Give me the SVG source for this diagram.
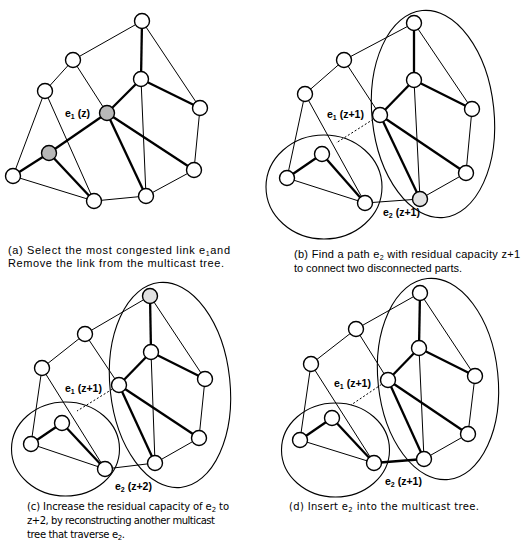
<svg xmlns="http://www.w3.org/2000/svg" width="522" height="544" viewBox="0 0 522 544">
<style>
.t{stroke:#000;stroke-width:1;fill:none}
.k{stroke:#000;stroke-width:2.3;fill:none}
.d{stroke:#000;stroke-width:1;stroke-dasharray:2 2;fill:none}
.el{stroke:#000;stroke-width:1.1;fill:none}
.n circle{fill:#fff;stroke:#000;stroke-width:1.4}
.n.s circle{fill:#b8b8b8}
.n.l circle{fill:#e2e2e2}
.lb{font-family:"Liberation Sans",Arial,sans-serif;font-size:10.5px;font-weight:bold;fill:#000}
.cap{font-family:"Liberation Sans",Arial,sans-serif;font-size:11px;fill:#000}
.cap2{font-family:"DejaVu Sans",Verdana,sans-serif;font-size:10px;fill:#000}
.sub{font-size:7px}
</style>
<rect width="522" height="544" fill="#fff"/>
<g id="ellipses">
<ellipse class="el" cx="433" cy="114" rx="61" ry="104" transform="rotate(-6 433 114)"/>
<ellipse class="el" cx="324" cy="187" rx="58" ry="52"/>
<ellipse class="el" cx="170" cy="385" rx="60" ry="103" transform="rotate(-6 170 385)"/>
<ellipse class="el" cx="65.5" cy="449" rx="54" ry="47"/>
<ellipse class="el" cx="438" cy="379" rx="60" ry="101" transform="rotate(-6 438 379)"/>
<ellipse class="el" cx="335.5" cy="450" rx="54" ry="47"/>
</g>
<g id="connectors">
<line class="t" x1="142" y1="21" x2="73" y2="60"/>
<line class="t" x1="142" y1="21" x2="200" y2="108"/>
<line class="t" x1="73" y1="60" x2="45" y2="91"/>
<line class="t" x1="73" y1="60" x2="107" y2="113"/>
<line class="t" x1="45" y1="91" x2="13" y2="176"/>
<line class="t" x1="45" y1="91" x2="94" y2="201"/>
<line class="t" x1="141" y1="79" x2="146" y2="196"/>
<line class="t" x1="200" y1="108" x2="194" y2="170"/>
<line class="t" x1="194" y1="170" x2="146" y2="196"/>
<line class="t" x1="146" y1="196" x2="94" y2="201"/>
<line class="t" x1="94" y1="201" x2="13" y2="176"/>
<line class="k" x1="142" y1="21" x2="141" y2="79"/>
<line class="k" x1="141" y1="79" x2="107" y2="113"/>
<line class="k" x1="141" y1="79" x2="200" y2="108"/>
<line class="k" x1="107" y1="113" x2="146" y2="196"/>
<line class="k" x1="107" y1="113" x2="194" y2="170"/>
<line class="k" x1="49" y1="153" x2="13" y2="176"/>
<line class="k" x1="49" y1="153" x2="94" y2="201"/>
<line class="k" x1="107" y1="113" x2="49" y2="153"/>
<line class="t" x1="414" y1="23" x2="344" y2="60"/>
<line class="t" x1="414" y1="23" x2="472" y2="109"/>
<line class="t" x1="344" y1="60" x2="305" y2="94"/>
<line class="t" x1="344" y1="60" x2="380" y2="115"/>
<line class="t" x1="305" y1="94" x2="287" y2="178"/>
<line class="t" x1="305" y1="94" x2="365" y2="203"/>
<line class="t" x1="414" y1="80" x2="420" y2="199"/>
<line class="t" x1="472" y1="109" x2="466" y2="173"/>
<line class="t" x1="466" y1="173" x2="420" y2="199"/>
<line class="t" x1="420" y1="199" x2="365" y2="203"/>
<line class="t" x1="365" y1="203" x2="287" y2="178"/>
<line class="k" x1="414" y1="23" x2="414" y2="80"/>
<line class="k" x1="414" y1="80" x2="380" y2="115"/>
<line class="k" x1="414" y1="80" x2="472" y2="109"/>
<line class="k" x1="380" y1="115" x2="420" y2="199"/>
<line class="k" x1="380" y1="115" x2="466" y2="173"/>
<line class="k" x1="322" y1="154" x2="287" y2="178"/>
<line class="k" x1="322" y1="154" x2="365" y2="203"/>
<line class="d" x1="380" y1="115" x2="336" y2="143"/>
<line class="t" x1="150" y1="296" x2="85" y2="334"/>
<line class="t" x1="150" y1="296" x2="205" y2="379"/>
<line class="t" x1="85" y1="334" x2="42" y2="368"/>
<line class="t" x1="85" y1="334" x2="119" y2="385"/>
<line class="t" x1="42" y1="368" x2="31" y2="444"/>
<line class="t" x1="42" y1="368" x2="105" y2="469"/>
<line class="t" x1="151" y1="352" x2="155" y2="463"/>
<line class="t" x1="205" y1="379" x2="199" y2="438"/>
<line class="t" x1="199" y1="438" x2="155" y2="463"/>
<line class="t" x1="155" y1="463" x2="105" y2="469"/>
<line class="t" x1="105" y1="469" x2="31" y2="444"/>
<line class="k" x1="150" y1="296" x2="151" y2="352"/>
<line class="k" x1="151" y1="352" x2="119" y2="385"/>
<line class="k" x1="151" y1="352" x2="205" y2="379"/>
<line class="k" x1="119" y1="385" x2="155" y2="463"/>
<line class="k" x1="119" y1="385" x2="199" y2="438"/>
<line class="k" x1="62" y1="423" x2="31" y2="444"/>
<line class="k" x1="62" y1="423" x2="105" y2="469"/>
<line class="d" x1="119" y1="385" x2="77" y2="411"/>
<line class="t" x1="420" y1="293" x2="356" y2="329"/>
<line class="t" x1="420" y1="293" x2="475" y2="376"/>
<line class="t" x1="356" y1="329" x2="311" y2="364"/>
<line class="t" x1="356" y1="329" x2="388" y2="380"/>
<line class="t" x1="311" y1="364" x2="300" y2="440"/>
<line class="t" x1="311" y1="364" x2="374" y2="463"/>
<line class="t" x1="419" y1="348" x2="424" y2="459"/>
<line class="t" x1="475" y1="376" x2="468" y2="434"/>
<line class="t" x1="468" y1="434" x2="424" y2="459"/>
<line class="t" x1="374" y1="463" x2="300" y2="440"/>
<line class="k" x1="424" y1="459" x2="374" y2="463"/>
<line class="k" x1="420" y1="293" x2="419" y2="348"/>
<line class="k" x1="419" y1="348" x2="388" y2="380"/>
<line class="k" x1="419" y1="348" x2="475" y2="376"/>
<line class="k" x1="388" y1="380" x2="424" y2="459"/>
<line class="k" x1="388" y1="380" x2="468" y2="434"/>
<line class="k" x1="332" y1="418" x2="300" y2="440"/>
<line class="k" x1="332" y1="418" x2="374" y2="463"/>
<line class="d" x1="388" y1="380" x2="351" y2="405"/>
</g>
<g id="nodes">
<g id="a1" class="n"><circle cx="142" cy="21" r="7.5"/></g>
<g id="a2" class="n"><circle cx="73" cy="60" r="7.5"/></g>
<g id="a3" class="n"><circle cx="45" cy="91" r="7.5"/></g>
<g id="a4" class="n s"><circle cx="107" cy="113" r="7.5"/></g>
<g id="a5" class="n"><circle cx="141" cy="79" r="7.5"/></g>
<g id="a6" class="n"><circle cx="200" cy="108" r="7.5"/></g>
<g id="a7" class="n s"><circle cx="49" cy="153" r="7.5"/></g>
<g id="a8" class="n"><circle cx="13" cy="176" r="7.5"/></g>
<g id="a9" class="n"><circle cx="94" cy="201" r="7.5"/></g>
<g id="a10" class="n"><circle cx="146" cy="196" r="7.5"/></g>
<g id="a11" class="n"><circle cx="194" cy="170" r="7.5"/></g>
<g id="b1" class="n"><circle cx="414" cy="23" r="7.5"/></g>
<g id="b2" class="n"><circle cx="344" cy="60" r="7.5"/></g>
<g id="b3" class="n"><circle cx="305" cy="94" r="7.5"/></g>
<g id="b4" class="n"><circle cx="380" cy="115" r="7.5"/></g>
<g id="b5" class="n"><circle cx="414" cy="80" r="7.5"/></g>
<g id="b6" class="n"><circle cx="472" cy="109" r="7.5"/></g>
<g id="b7" class="n"><circle cx="322" cy="154" r="7.5"/></g>
<g id="b8" class="n"><circle cx="287" cy="178" r="7.5"/></g>
<g id="b9" class="n"><circle cx="365" cy="203" r="7.5"/></g>
<g id="b10" class="n l"><circle cx="420" cy="199" r="7.5"/></g>
<g id="b11" class="n"><circle cx="466" cy="173" r="7.5"/></g>
<g id="c1" class="n l"><circle cx="150" cy="296" r="7.5"/></g>
<g id="c2" class="n"><circle cx="85" cy="334" r="7.5"/></g>
<g id="c3" class="n"><circle cx="42" cy="368" r="7.5"/></g>
<g id="c4" class="n"><circle cx="119" cy="385" r="7.5"/></g>
<g id="c5" class="n"><circle cx="151" cy="352" r="7.5"/></g>
<g id="c6" class="n"><circle cx="205" cy="379" r="7.5"/></g>
<g id="c7" class="n"><circle cx="62" cy="423" r="7.5"/></g>
<g id="c8" class="n"><circle cx="31" cy="444" r="7.5"/></g>
<g id="c9" class="n"><circle cx="105" cy="469" r="7.5"/></g>
<g id="c10" class="n"><circle cx="155" cy="463" r="7.5"/></g>
<g id="c11" class="n"><circle cx="199" cy="438" r="7.5"/></g>
<g id="d1" class="n"><circle cx="420" cy="293" r="7.5"/></g>
<g id="d2" class="n"><circle cx="356" cy="329" r="7.5"/></g>
<g id="d3" class="n"><circle cx="311" cy="364" r="7.5"/></g>
<g id="d4" class="n"><circle cx="388" cy="380" r="7.5"/></g>
<g id="d5" class="n"><circle cx="419" cy="348" r="7.5"/></g>
<g id="d6" class="n"><circle cx="475" cy="376" r="7.5"/></g>
<g id="d7" class="n"><circle cx="332" cy="418" r="7.5"/></g>
<g id="d8" class="n"><circle cx="300" cy="440" r="7.5"/></g>
<g id="d9" class="n"><circle cx="374" cy="463" r="7.5"/></g>
<g id="d10" class="n"><circle cx="424" cy="459" r="7.5"/></g>
<g id="d11" class="n"><circle cx="468" cy="434" r="7.5"/></g>
</g>
<g id="labels">
<text class="lb" x="65" y="117">e<tspan class="sub" dy="2">1</tspan><tspan dy="-2"> (z)</tspan></text>
<text class="lb" x="327" y="118">e<tspan class="sub" dy="2">1</tspan><tspan dy="-2"> (z+1)</tspan></text>
<text class="lb" x="383" y="216">e<tspan class="sub" dy="2">2</tspan><tspan dy="-2"> (z+1)</tspan></text>
<text class="lb" x="65" y="392">e<tspan class="sub" dy="2">1</tspan><tspan dy="-2"> (z+1)</tspan></text>
<text class="lb" x="115" y="490">e<tspan class="sub" dy="2">2</tspan><tspan dy="-2"> (z+2)</tspan></text>
<text class="lb" x="334" y="387">e<tspan class="sub" dy="2">1</tspan><tspan dy="-2"> (z+1)</tspan></text>
<text class="lb" x="385" y="485">e<tspan class="sub" dy="2">2</tspan><tspan dy="-2"> (z+1)</tspan></text>
</g>
<g id="captions">
<text class="cap" x="8" y="254" textLength="222">(a) Select the most congested link e<tspan class="sub" dy="2">1</tspan><tspan dy="-2">and</tspan></text>
<text class="cap" x="8" y="267" textLength="216">Remove the link from the multicast tree.</text>
<text class="cap" x="294" y="258" textLength="226">(b) Find a path e<tspan class="sub" dy="2">2</tspan><tspan dy="-2"> with residual capacity z+1</tspan></text>
<text class="cap" x="294" y="272" textLength="168">to connect two disconnected parts.</text>
<text class="cap2" x="27" y="510" textLength="202">(c) Increase the residual capacity of  e<tspan class="sub" dy="2">2</tspan><tspan dy="-2"> to</tspan></text>
<text class="cap2" x="27" y="524" textLength="188">z+2, by reconstructing another multicast</text>
<text class="cap2" x="27" y="538" textLength="98">tree that traverse e<tspan class="sub" dy="2">2</tspan><tspan dy="-2">.</tspan></text>
<text class="cap2" x="289" y="510" textLength="190">(d) Insert e<tspan class="sub" dy="2">2</tspan><tspan dy="-2"> into the multicast tree.</tspan></text>
</g>
</svg>
